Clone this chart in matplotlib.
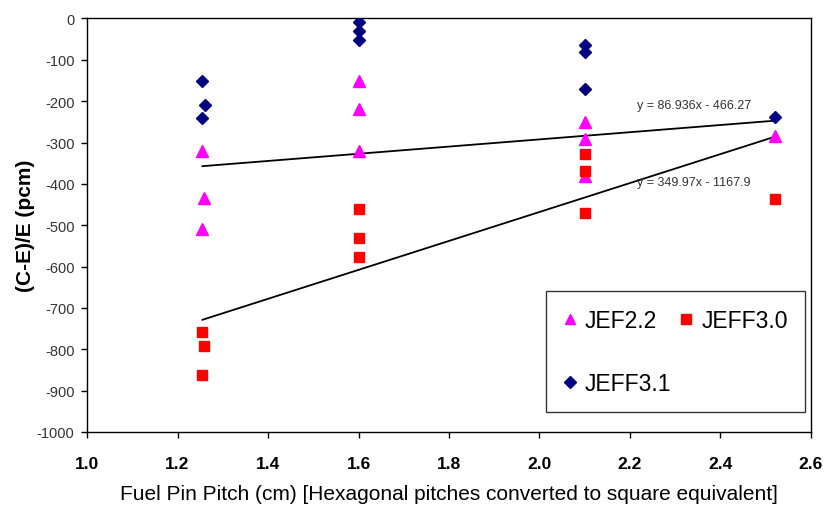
import matplotlib
matplotlib.use("Agg")
import matplotlib.pyplot as plt
import numpy as np

plt.rcParams['font.family'] = ['Liberation Sans', 'DejaVu Sans']

# Data
jef22_x = [1.255, 1.258, 1.255, 1.6, 1.6, 1.6, 2.1, 2.1, 2.1, 2.52]
jef22_y = [-320, -433, -510, -152, -220, -320, -251, -292, -382, -285]

jeff30_x = [1.255, 1.258, 1.255, 1.6, 1.6, 1.6, 2.1, 2.1, 2.1, 2.52]
jeff30_y = [-759, -792, -862, -460, -530, -578, -328, -370, -470, -437]

jeff31_x = [1.255, 1.26, 1.255, 1.6, 1.6, 1.6, 2.1, 2.1, 2.1, 2.52]
jeff31_y = [-152, -210, -240, -8, -30, -52, -63, -80, -171, -239]

# Trendlines (slope, intercept) and span
trend1 = (86.936, -466.27)
trend2 = (349.97, -1167.9)
trend_span = [1.255, 2.52]
trend1_label = "y = 86.936x - 466.27"
trend2_label = "y = 349.97x - 1167.9"

x_ticks = [1.0, 1.2, 1.4, 1.6, 1.8, 2.0, 2.2, 2.4, 2.6]
y_ticks = list(range(-1000, 1, 100))

fig = plt.figure(figsize=(8.25, 5.06), dpi=100)
ax = fig.add_axes([0.1055, 0.1443, 0.983 - 0.1055, 0.9615 - 0.1443])

h1, = ax.plot(jef22_x, jef22_y, linestyle='none', marker='^', color='#FF00FF',
              markersize=8, label='JEF2.2', zorder=3)
h3, = ax.plot(jeff31_x, jeff31_y, linestyle='none', marker='D', color='#000080',
              markersize=6.5, label='JEFF3.1', zorder=3)
h2, = ax.plot(jeff30_x, jeff30_y, linestyle='none', marker='s', color='#FF0000',
              markersize=7.5, label='JEFF3.0', zorder=3)

xs = np.array(trend_span)
ax.plot(xs, trend1[0] * xs + trend1[1], color='black', linewidth=1.3, zorder=2)
ax.plot(xs, trend2[0] * xs + trend2[1], color='black', linewidth=1.3, zorder=2)

ax.text(2.341, -209, trend1_label, fontsize=9, color='#333333', ha='center', va='center')
ax.text(2.341, -395, trend2_label, fontsize=9, color='#333333', ha='center', va='center')

ax.set_xlim(1.0, 2.6)
ax.set_ylim(-1000, 0)
ax.set_xticks(x_ticks)
ax.set_xticklabels([f"{v:.1f}" for v in x_ticks], fontweight='bold', fontsize=12.5,
                   fontstretch='condensed')
ax.set_yticks(y_ticks)
ax.set_yticklabels([str(v) for v in y_ticks], fontsize=10.5, color='#333333')
ax.tick_params(direction='out', length=4, width=1, color='black')
ax.tick_params(axis='x', pad=13)
ax.tick_params(axis='y', pad=5)

for s in ax.spines.values():
    s.set_linewidth(1)
    s.set_color('black')

ax.set_xlabel("Fuel Pin Pitch (cm) [Hexagonal pitches converted to square equivalent]",
              fontsize=15, labelpad=10)
ax.set_ylabel("(C-E)/E (pcm)", fontsize=15, fontweight='bold', labelpad=1)

leg = ax.legend(handles=[h1, h3, h2], ncol=2, loc='lower right',
                bbox_to_anchor=(0.9917, 0.0484), fontsize=16.5, frameon=True,
                fancybox=False, edgecolor='black', labelspacing=1.75,
                handlelength=0.6, handletextpad=0.35, columnspacing=0.35,
                borderpad=0.75, markerscale=0.9, borderaxespad=0)
leg.get_frame().set_linewidth(1)

fig.savefig("out.png", dpi=100)
